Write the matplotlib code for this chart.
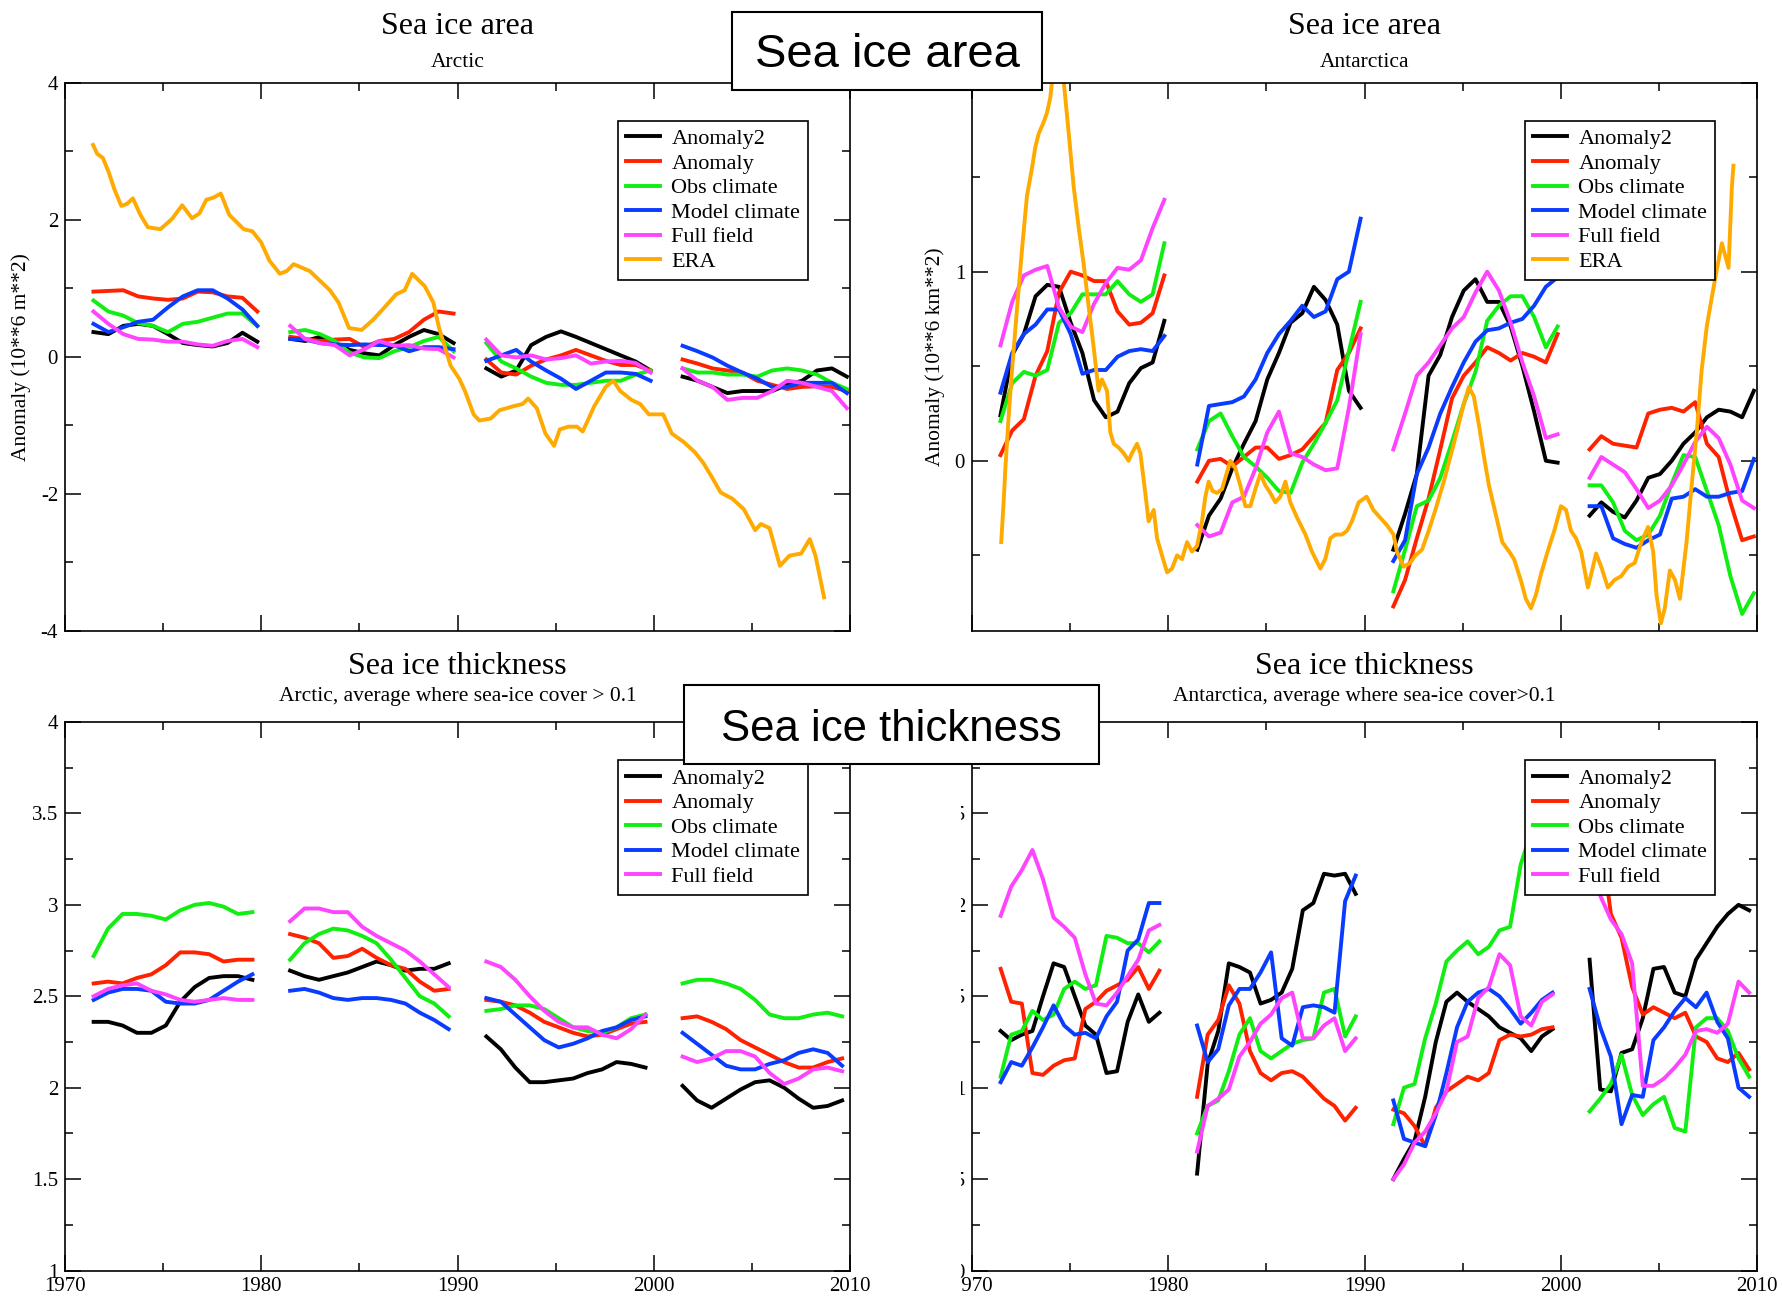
import matplotlib
matplotlib.use("Agg")
import matplotlib.pyplot as plt
import numpy as np
from matplotlib.patches import Rectangle
from matplotlib.ticker import MultipleLocator, FormatStrFormatter, FuncFormatter

# ---------------- data ----------------
series_names = ["Anomaly2", "Anomaly", "Obs climate", "Model climate", "Full field", "ERA"]
colors = ["#000000", "#ff2200", "#11ee11", "#0a3cff", "#ff44ff", "#ffaa00"]

# start / end year of each experiment segment
area_spans = [(1971.45, 1979.8), (1981.48, 1989.8), (1991.47, 1999.84), (2001.47, 2009.84)]
thick_spans = [(1971.46, 1979.55), (1981.47, 1989.55), (1991.47, 1999.58), (2001.47, 2009.6)]

# Sea ice area, Arctic (10**6 m**2 anomaly)
arc_area_anom2 = [[0.36, 0.33, 0.45, 0.48, 0.45, 0.33, 0.2, 0.17, 0.15, 0.2, 0.35, 0.22],
                  [0.26, 0.23, 0.29, 0.2, 0.1, 0.05, 0.02, 0.17, 0.29, 0.39, 0.33, 0.2],
                  [-0.17, -0.29, -0.2, 0.17, 0.29, 0.37, 0.29, 0.2, 0.11, 0.02, -0.07, -0.2],
                  [-0.29, -0.35, -0.44, -0.53, -0.5, -0.5, -0.5, -0.41, -0.35, -0.2, -0.17, -0.29]]
arc_area_anom = [[0.95, 0.96, 0.97, 0.88, 0.85, 0.83, 0.85, 0.95, 0.94, 0.88, 0.86, 0.66],
                 [0.29, 0.26, 0.23, 0.25, 0.26, 0.14, 0.23, 0.26, 0.36, 0.54, 0.66, 0.63],
                 [-0.04, -0.23, -0.26, -0.13, -0.04, 0.02, 0.1, 0.02, -0.06, -0.12, -0.12, -0.2],
                 [-0.04, -0.1, -0.17, -0.2, -0.23, -0.35, -0.41, -0.47, -0.44, -0.43, -0.44, -0.5]]
arc_area_obs = [[0.82, 0.66, 0.6, 0.49, 0.45, 0.36, 0.48, 0.51, 0.57, 0.63, 0.63, 0.45],
                [0.36, 0.39, 0.33, 0.23, 0.06, -0.01, -0.02, 0.08, 0.14, 0.23, 0.29, 0.08],
                [0.2, -0.07, -0.17, -0.29, -0.38, -0.41, -0.41, -0.38, -0.35, -0.35, -0.26, -0.2],
                [-0.17, -0.23, -0.23, -0.26, -0.26, -0.29, -0.2, -0.17, -0.2, -0.26, -0.38, -0.47]]
arc_area_model = [[0.48, 0.36, 0.43, 0.51, 0.54, 0.72, 0.88, 0.97, 0.97, 0.85, 0.69, 0.45],
                  [0.26, 0.25, 0.2, 0.18, 0.17, 0.18, 0.17, 0.17, 0.08, 0.14, 0.14, 0.11],
                  [-0.06, 0.02, 0.1, -0.07, -0.2, -0.32, -0.47, -0.35, -0.23, -0.23, -0.25, -0.35],
                  [0.16, 0.08, -0.01, -0.13, -0.23, -0.32, -0.44, -0.44, -0.38, -0.38, -0.38, -0.53]]
arc_area_full = [[0.66, 0.48, 0.33, 0.26, 0.25, 0.22, 0.22, 0.18, 0.16, 0.23, 0.26, 0.14],
                 [0.45, 0.26, 0.2, 0.17, 0.02, 0.11, 0.23, 0.16, 0.17, 0.12, 0.11, -0.01],
                 [0.25, 0.02, -0.01, 0.02, -0.04, -0.02, 0.02, -0.1, -0.07, -0.06, -0.09, -0.23],
                 [-0.17, -0.35, -0.44, -0.63, -0.6, -0.6, -0.5, -0.35, -0.38, -0.44, -0.5, -0.75]]
arc_area_era = [(1971.43, 3.09), (1971.64, 2.96), (1971.93, 2.9), (1972.23, 2.69), (1972.52, 2.44),
                (1972.87, 2.2), (1973.16, 2.23), (1973.46, 2.31), (1973.84, 2.07), (1974.22, 1.89),
                (1974.86, 1.86), (1975.45, 2.01), (1975.97, 2.21), (1976.47, 2.02), (1976.85, 2.09),
                (1977.2, 2.29), (1977.55, 2.32), (1977.94, 2.38), (1978.37, 2.07), (1979.11, 1.86),
                (1979.55, 1.83), (1979.99, 1.67), (1980.42, 1.4), (1980.95, 1.21), (1981.3, 1.25),
                (1981.65, 1.35), (1982.47, 1.25), (1983.06, 1.09), (1983.5, 0.97), (1983.94, 0.79),
                (1984.47, 0.42), (1985.11, 0.39), (1985.7, 0.54), (1986.28, 0.72), (1986.87, 0.91),
                (1987.31, 0.97), (1987.69, 1.21), (1988.33, 1.03), (1988.77, 0.79), (1989.06, 0.42),
                (1989.65, -0.13), (1990.09, -0.32), (1990.38, -0.5), (1990.82, -0.84), (1991.11, -0.93),
                (1991.7, -0.9), (1992.14, -0.78), (1992.87, -0.72), (1993.31, -0.69), (1993.6, -0.61),
                (1994.04, -0.75), (1994.48, -1.12), (1994.92, -1.3), (1995.21, -1.06), (1995.65, -1.02),
                (1996.09, -1.02), (1996.38, -1.09), (1996.97, -0.72), (1997.55, -0.44), (1997.94, -0.35),
                (1998.29, -0.5), (1998.87, -0.63), (1999.31, -0.69), (1999.75, -0.84), (2000.48, -0.84),
                (2000.92, -1.12), (2001.51, -1.24), (2002.09, -1.39), (2002.53, -1.55), (2002.97, -1.76),
                (2003.41, -1.98), (2004.0, -2.07), (2004.58, -2.22), (2005.17, -2.53), (2005.46, -2.44),
                (2005.9, -2.5), (2006.43, -3.05), (2006.92, -2.9), (2007.51, -2.87), (2007.95, -2.66),
                (2008.24, -2.9), (2008.68, -3.51)]

# Sea ice area, Antarctica (10**6 km**2 anomaly)
ant_area_anom2 = [[0.24, 0.56, 0.67, 0.87, 0.93, 0.92, 0.73, 0.57, 0.32, 0.23, 0.26, 0.41, 0.49, 0.52, 0.74],
                  [-0.47, -0.29, -0.2, -0.04, 0.09, 0.21, 0.43, 0.57, 0.73, 0.78, 0.92, 0.85, 0.72, 0.37, 0.28],
                  [-0.47, -0.28, -0.07, 0.45, 0.56, 0.76, 0.9, 0.96, 0.84, 0.84, 0.71, 0.5, 0.26, 0.0, -0.01],
                  [-0.29, -0.22, -0.27, -0.3, -0.21, -0.09, -0.07, 0.0, 0.09, 0.15, 0.23, 0.27, 0.26, 0.23, 0.37]]
ant_area_anom = [[0.03, 0.16, 0.22, 0.45, 0.58, 0.89, 1.0, 0.98, 0.95, 0.95, 0.79, 0.72, 0.73, 0.78, 0.98],
                 [-0.11, 0.0, 0.01, -0.03, 0.02, 0.07, 0.07, 0.01, 0.03, 0.06, 0.13, 0.2, 0.48, 0.57, 0.7],
                 [-0.77, -0.63, -0.41, -0.2, 0.06, 0.33, 0.45, 0.52, 0.6, 0.57, 0.53, 0.57, 0.55, 0.52, 0.67],
                 [0.06, 0.13, 0.09, 0.08, 0.07, 0.25, 0.27, 0.28, 0.26, 0.31, 0.09, 0.02, -0.22, -0.42, -0.4]]
ant_area_obs = [[0.21, 0.41, 0.47, 0.45, 0.48, 0.73, 0.78, 0.88, 0.88, 0.88, 0.95, 0.88, 0.84, 0.88, 1.15],
                [0.06, 0.21, 0.25, 0.13, 0.02, -0.03, -0.09, -0.16, -0.17, -0.01, 0.09, 0.2, 0.32, 0.58, 0.84],
                [-0.69, -0.47, -0.24, -0.21, -0.09, 0.1, 0.3, 0.47, 0.74, 0.82, 0.87, 0.87, 0.76, 0.6, 0.71],
                [-0.13, -0.13, -0.22, -0.37, -0.42, -0.39, -0.29, -0.12, 0.03, 0.02, -0.16, -0.34, -0.61, -0.81, -0.7]]
ant_area_model = [[0.36, 0.57, 0.67, 0.72, 0.8, 0.8, 0.67, 0.46, 0.48, 0.48, 0.55, 0.58, 0.59, 0.58, 0.66],
                  [-0.02, 0.29, 0.3, 0.31, 0.34, 0.43, 0.57, 0.67, 0.74, 0.82, 0.76, 0.79, 0.96, 1.0, 1.28],
                  [-0.53, -0.42, -0.07, 0.07, 0.25, 0.39, 0.52, 0.63, 0.69, 0.7, 0.73, 0.75, 0.82, 0.92, 0.97],
                  [-0.24, -0.24, -0.41, -0.44, -0.46, -0.42, -0.39, -0.2, -0.19, -0.15, -0.19, -0.19, -0.17, -0.16, 0.01]]
ant_area_full = [[0.61, 0.84, 0.98, 1.01, 1.03, 0.81, 0.71, 0.68, 0.83, 0.94, 1.02, 1.01, 1.06, 1.23, 1.38],
                 [-0.34, -0.4, -0.38, -0.22, -0.19, -0.04, 0.15, 0.26, 0.04, 0.02, -0.02, -0.05, -0.04, 0.28, 0.67],
                 [0.06, 0.25, 0.45, 0.52, 0.61, 0.7, 0.76, 0.89, 1.0, 0.9, 0.73, 0.52, 0.34, 0.12, 0.14],
                 [-0.09, 0.02, -0.02, -0.06, -0.15, -0.25, -0.21, -0.13, -0.02, 0.1, 0.18, 0.12, -0.02, -0.21, -0.25]]
ant_area_era = [(1971.49, -0.43), (1971.61, -0.22), (1971.7, -0.04), (1971.87, 0.24), (1972.04, 0.48),
                (1972.29, 0.8), (1972.55, 1.12), (1972.8, 1.4), (1973.06, 1.55), (1973.23, 1.66),
                (1973.4, 1.73), (1973.65, 1.79), (1973.82, 1.84), (1973.99, 1.92), (1974.08, 2.01),
                (1974.37, 2.3), (1974.67, 2.01), (1974.93, 1.73), (1975.18, 1.45), (1975.44, 1.23),
                (1975.69, 1.04), (1975.94, 0.82), (1976.2, 0.6), (1976.45, 0.37), (1976.62, 0.43),
                (1976.88, 0.37), (1977.05, 0.15), (1977.22, 0.09), (1977.47, 0.07), (1977.73, 0.04),
                (1977.98, 0.0), (1978.15, 0.04), (1978.41, 0.09), (1978.58, 0.04), (1978.83, -0.17),
                (1979.0, -0.32), (1979.26, -0.26), (1979.43, -0.41), (1979.68, -0.5), (1979.94, -0.59),
                (1980.19, -0.57), (1980.45, -0.5), (1980.7, -0.52), (1980.96, -0.43), (1981.21, -0.48),
                (1981.47, -0.45), (1981.72, -0.32), (1981.89, -0.19), (1982.06, -0.11), (1982.26, -0.16),
                (1982.48, -0.17), (1982.74, -0.15), (1983.16, 0.0), (1983.42, -0.04), (1983.67, -0.13),
                (1983.93, -0.24), (1984.18, -0.24), (1984.44, -0.15), (1984.69, -0.07), (1984.95, -0.13),
                (1985.2, -0.17), (1985.46, -0.22), (1985.71, -0.19), (1985.97, -0.11), (1986.22, -0.22),
                (1986.56, -0.3), (1986.99, -0.39), (1987.32, -0.48), (1987.75, -0.57), (1988.0, -0.52),
                (1988.26, -0.41), (1988.51, -0.39), (1988.85, -0.39), (1989.11, -0.37), (1989.36, -0.32),
                (1989.7, -0.22), (1990.11, -0.19), (1990.45, -0.26), (1990.79, -0.3), (1991.14, -0.34),
                (1991.48, -0.39), (1991.65, -0.48), (1991.99, -0.56), (1992.33, -0.54), (1992.59, -0.5),
                (1992.93, -0.47), (1993.27, -0.37), (1993.61, -0.26), (1994.04, -0.11), (1994.55, 0.09),
                (1995.06, 0.3), (1995.32, 0.39), (1995.57, 0.34), (1995.83, 0.19), (1996.09, 0.02),
                (1996.34, -0.13), (1996.68, -0.28), (1997.02, -0.43), (1997.37, -0.48), (1997.62, -0.52),
                (1997.96, -0.63), (1998.22, -0.73), (1998.48, -0.78), (1998.73, -0.71), (1998.99, -0.6),
                (1999.33, -0.48), (1999.67, -0.37), (2000.01, -0.24), (2000.27, -0.26), (2000.52, -0.37),
                (2000.78, -0.41), (2001.04, -0.48), (2001.38, -0.67), (2001.55, -0.6), (2001.8, -0.49),
                (2002.06, -0.56), (2002.4, -0.67), (2002.74, -0.63), (2003.08, -0.61), (2003.43, -0.56),
                (2003.77, -0.54), (2004.11, -0.43), (2004.45, -0.35), (2004.71, -0.48), (2004.88, -0.71),
                (2005.1, -0.86), (2005.3, -0.78), (2005.56, -0.58), (2005.82, -0.63), (2006.07, -0.73),
                (2006.41, -0.43), (2006.67, -0.13), (2006.93, 0.15), (2007.18, 0.48), (2007.44, 0.71),
                (2007.69, 0.86), (2007.95, 1.01), (2008.21, 1.15), (2008.55, 1.02), (2008.72, 1.45),
                (2008.8, 1.56)]

# Sea ice thickness, Arctic
arc_thick_anom2 = [[2.36, 2.36, 2.34, 2.3, 2.3, 2.34, 2.47, 2.55, 2.6, 2.61, 2.61, 2.59],
                   [2.64, 2.61, 2.59, 2.61, 2.63, 2.66, 2.69, 2.67, 2.64, 2.65, 2.65, 2.68],
                   [2.28, 2.21, 2.11, 2.03, 2.03, 2.04, 2.05, 2.08, 2.1, 2.14, 2.13, 2.11],
                   [2.01, 1.93, 1.89, 1.94, 1.99, 2.03, 2.04, 2.0, 1.94, 1.89, 1.9, 1.93]]
arc_thick_anom = [[2.57, 2.58, 2.57, 2.6, 2.62, 2.67, 2.74, 2.74, 2.73, 2.69, 2.7, 2.7],
                  [2.84, 2.82, 2.79, 2.71, 2.72, 2.76, 2.71, 2.67, 2.65, 2.58, 2.53, 2.54],
                  [2.48, 2.47, 2.45, 2.41, 2.36, 2.33, 2.3, 2.28, 2.29, 2.32, 2.35, 2.36],
                  [2.38, 2.39, 2.36, 2.32, 2.26, 2.22, 2.18, 2.14, 2.11, 2.11, 2.14, 2.16]]
arc_thick_obs = [[2.72, 2.87, 2.95, 2.95, 2.94, 2.92, 2.97, 3.0, 3.01, 2.99, 2.95, 2.96],
                 [2.7, 2.79, 2.84, 2.87, 2.86, 2.83, 2.79, 2.7, 2.6, 2.5, 2.46, 2.39],
                 [2.42, 2.43, 2.45, 2.45, 2.43, 2.38, 2.33, 2.31, 2.3, 2.33, 2.38, 2.4],
                 [2.57, 2.59, 2.59, 2.57, 2.54, 2.48, 2.4, 2.38, 2.38, 2.4, 2.41, 2.39]]
arc_thick_model = [[2.48, 2.52, 2.54, 2.54, 2.53, 2.47, 2.46, 2.46, 2.48, 2.53, 2.58, 2.62],
                   [2.53, 2.54, 2.52, 2.49, 2.48, 2.49, 2.49, 2.48, 2.46, 2.41, 2.37, 2.32],
                   [2.49, 2.47, 2.4, 2.33, 2.26, 2.22, 2.24, 2.27, 2.31, 2.33, 2.37, 2.39],
                   [2.3, 2.24, 2.18, 2.12, 2.1, 2.1, 2.13, 2.15, 2.19, 2.21, 2.19, 2.12]]
arc_thick_full = [[2.5, 2.54, 2.56, 2.57, 2.53, 2.51, 2.48, 2.47, 2.48, 2.49, 2.48, 2.48],
                  [2.91, 2.98, 2.98, 2.96, 2.96, 2.88, 2.83, 2.79, 2.75, 2.69, 2.62, 2.55],
                  [2.69, 2.66, 2.59, 2.5, 2.42, 2.36, 2.33, 2.33, 2.29, 2.27, 2.32, 2.4],
                  [2.17, 2.14, 2.16, 2.2, 2.2, 2.17, 2.08, 2.02, 2.05, 2.1, 2.11, 2.09]]

# Sea ice thickness, Antarctica
ant_thick_anom2 = [[1.31, 1.26, 1.29, 1.31, 1.5, 1.68, 1.66, 1.5, 1.34, 1.29, 1.08, 1.09, 1.36, 1.51, 1.36, 1.41],
                   [0.53, 1.13, 1.31, 1.68, 1.66, 1.63, 1.46, 1.48, 1.52, 1.65, 1.97, 2.01, 2.17, 2.16, 2.17, 2.06],
                   [0.5, 0.61, 0.71, 0.95, 1.25, 1.47, 1.52, 1.47, 1.43, 1.39, 1.33, 1.3, 1.27, 1.2, 1.28, 1.32],
                   [1.7, 0.99, 0.98, 1.19, 1.21, 1.38, 1.65, 1.66, 1.52, 1.5, 1.7, 1.79, 1.88, 1.95, 2.0, 1.97]]
ant_thick_anom = [[1.65, 1.47, 1.46, 1.08, 1.07, 1.12, 1.15, 1.16, 1.43, 1.47, 1.53, 1.56, 1.59, 1.66, 1.54, 1.64],
                  [0.95, 1.29, 1.37, 1.56, 1.46, 1.2, 1.08, 1.04, 1.08, 1.09, 1.06, 1.0, 0.94, 0.9, 0.82, 0.89],
                  [0.88, 0.86, 0.79, 0.68, 0.89, 0.98, 1.02, 1.06, 1.04, 1.08, 1.26, 1.29, 1.28, 1.29, 1.32, 1.33],
                  [2.6, 2.4, 1.95, 1.82, 1.55, 1.4, 1.44, 1.41, 1.38, 1.41, 1.28, 1.25, 1.16, 1.14, 1.19, 1.1]]
ant_thick_obs = [[1.06, 1.29, 1.31, 1.42, 1.37, 1.4, 1.54, 1.58, 1.54, 1.56, 1.83, 1.82, 1.79, 1.79, 1.74, 1.8],
                 [0.75, 0.9, 0.93, 1.09, 1.29, 1.38, 1.2, 1.16, 1.2, 1.24, 1.26, 1.27, 1.52, 1.54, 1.28, 1.39],
                 [0.8, 1.0, 1.02, 1.27, 1.46, 1.69, 1.75, 1.8, 1.73, 1.77, 1.86, 1.88, 2.22, 2.4, 2.5, 2.55],
                 [0.87, 0.94, 1.02, 1.18, 0.96, 0.85, 0.91, 0.95, 0.78, 0.76, 1.33, 1.38, 1.38, 1.31, 1.16, 1.06]]
ant_thick_model = [[1.03, 1.14, 1.12, 1.22, 1.33, 1.45, 1.34, 1.29, 1.3, 1.27, 1.39, 1.47, 1.75, 1.81, 2.01, 2.01],
                   [1.34, 1.14, 1.21, 1.45, 1.54, 1.54, 1.63, 1.74, 1.27, 1.23, 1.44, 1.45, 1.44, 1.41, 2.02, 2.16],
                   [0.93, 0.72, 0.7, 0.68, 0.85, 1.08, 1.33, 1.47, 1.52, 1.54, 1.5, 1.43, 1.35, 1.41, 1.48, 1.52],
                   [1.54, 1.33, 1.17, 0.8, 0.96, 0.95, 1.26, 1.33, 1.42, 1.49, 1.44, 1.52, 1.36, 1.27, 1.0, 0.95]]
ant_thick_full = [[1.94, 2.1, 2.19, 2.3, 2.14, 1.93, 1.88, 1.82, 1.62, 1.46, 1.45, 1.52, 1.61, 1.7, 1.86, 1.89],
                  [0.65, 0.9, 0.94, 0.99, 1.17, 1.25, 1.35, 1.4, 1.49, 1.52, 1.27, 1.27, 1.34, 1.38, 1.2, 1.27],
                  [0.5, 0.58, 0.7, 0.76, 0.86, 0.98, 1.25, 1.28, 1.49, 1.55, 1.73, 1.67, 1.39, 1.34, 1.47, 1.51],
                  [2.5, 2.05, 1.92, 1.84, 1.68, 1.01, 1.01, 1.05, 1.11, 1.18, 1.31, 1.32, 1.3, 1.35, 1.58, 1.52]]

# ---------------- style ----------------
plt.rcParams["font.family"] = ["Liberation Serif", "DejaVu Serif"]
plt.rcParams["axes.unicode_minus"] = False

W, H = 1782, 1300
fig = plt.figure(figsize=(W / 100, H / 100), dpi=100)


def seg_xy(segs, spans):
    xs, ys = [], []
    for vals, (a, b) in zip(segs, spans):
        xs.extend(np.linspace(a, b, len(vals)))
        ys.extend(vals)
        xs.append(np.nan)
        ys.append(np.nan)
    return xs, ys


def make_axes(left_px, top_px, ylim, major, minor, xlabels, hide_top=False):
    ax = fig.add_axes([left_px / W, (H - top_px - 548.5) / H, 785 / W, 548.5 / H])
    ax.set_xlim(1970, 2010)
    ax.set_ylim(*ylim)
    ax.xaxis.set_major_locator(MultipleLocator(10))
    ax.xaxis.set_minor_locator(MultipleLocator(5))
    ax.yaxis.set_major_locator(MultipleLocator(major))
    ax.yaxis.set_minor_locator(MultipleLocator(minor))
    top = ylim[1]
    # the top label of the right-hand panels sits under a caption box
    ax.yaxis.set_major_formatter(FuncFormatter(
        lambda v, p: "" if (hide_top and abs(v - top) < 1e-9) else "%g" % v))
    ax.xaxis.set_major_formatter(FormatStrFormatter("%d"))
    ax.tick_params(which="both", direction="in", top=True, right=True, width=1.1,
                   labelsize=15, pad=5, labelbottom=xlabels)
    ax.tick_params(which="major", length=11.5)
    ax.tick_params(which="minor", length=5.8)
    for s in ax.spines.values():
        s.set_linewidth(1.2)
    return ax


def draw_panel(ax, series):
    for name, col, xy in zip(series_names, colors, series):
        ax.plot(xy[0], xy[1], color=col, lw=2.8, label=name, solid_joinstyle="round")
    leg = ax.legend(loc="upper right", bbox_to_anchor=(0.9465, 0.93), borderaxespad=0,
                    fancybox=False, framealpha=1, edgecolor="black", fontsize=16,
                    handlelength=1.55, handletextpad=0.5, labelspacing=0.18, borderpad=0.35)
    leg.get_frame().set_linewidth(1.2)


# top-left: Arctic area
ax1 = make_axes(65, 82.5, (-4, 4), 2, 1, False)
era_x, era_y = zip(*arc_area_era)
draw_panel(ax1, [seg_xy(arc_area_anom2, area_spans), seg_xy(arc_area_anom, area_spans),
                 seg_xy(arc_area_obs, area_spans), seg_xy(arc_area_model, area_spans),
                 seg_xy(arc_area_full, area_spans), (era_x, era_y)])

# top-right: Antarctic area
ax2 = make_axes(972, 82.5, (-0.9, 2.0), 1, 0.5, False, hide_top=True)
era_x, era_y = zip(*ant_area_era)
draw_panel(ax2, [seg_xy(ant_area_anom2, area_spans), seg_xy(ant_area_anom, area_spans),
                 seg_xy(ant_area_obs, area_spans), seg_xy(ant_area_model, area_spans),
                 seg_xy(ant_area_full, area_spans), (era_x, era_y)])

# bottom-left: Arctic thickness
ax3 = make_axes(65, 722, (1, 4), 0.5, 0.25, True)
draw_panel(ax3, [seg_xy(arc_thick_anom2, thick_spans), seg_xy(arc_thick_anom, thick_spans),
                 seg_xy(arc_thick_obs, thick_spans), seg_xy(arc_thick_model, thick_spans),
                 seg_xy(arc_thick_full, thick_spans)])

# bottom-right: Antarctic thickness
ax4 = make_axes(972, 722, (0, 3), 0.5, 0.25, True, hide_top=True)
draw_panel(ax4, [seg_xy(ant_thick_anom2, thick_spans), seg_xy(ant_thick_anom, thick_spans),
                 seg_xy(ant_thick_obs, thick_spans), seg_xy(ant_thick_model, thick_spans),
                 seg_xy(ant_thick_full, thick_spans)])


# titles
def title(xc, y_top, text, size):
    fig.text(xc / W, 1 - y_top / H, text, ha="center", va="baseline", fontsize=size)


title(457.5, 34.5, "Sea ice area", 23)
title(457.5, 67.3, "Arctic", 15.5)
title(1364.5, 34.5, "Sea ice area", 23)
title(1364.5, 67.3, "Antarctica", 15.5)
title(457.5, 674.5, "Sea ice thickness", 23)
title(457.5, 701, "Arctic, average where sea-ice cover > 0.1", 15.5)
title(1364.5, 674.5, "Sea ice thickness", 23)
title(1364.5, 701, "Antarctica, average where sea-ice cover>0.1", 15.5)

fig.text(21 / W, 1 - 357 / H, "Anomaly (10**6 m**2)", rotation=90, ha="center", va="center", fontsize=15.5)
fig.text(935 / W, 1 - 357 / H, "Anomaly (10**6 km**2)", rotation=90, ha="center", va="center", fontsize=15.5)

# the left thickness panel hides the tick labels of the right one
fig.add_artist(Rectangle((876 / W, 0), (961 - 876) / W, 640 / H, transform=fig.transFigure,
                         facecolor="white", edgecolor="none", zorder=5))

# overlay caption boxes
for (x0, y0, x1, y1, txt, size, base) in [(732, 12, 1042, 90, "Sea ice area", 34, 67.3),
                                          (684, 685, 1099, 764, "Sea ice thickness", 31.5, 741)]:
    fig.add_artist(Rectangle((x0 / W, 1 - y1 / H), (x1 - x0) / W, (y1 - y0) / H,
                             transform=fig.transFigure, facecolor="white", edgecolor="black",
                             linewidth=1.5, zorder=10))
    fig.text((x0 + x1) / 2 / W, 1 - base / H, txt, ha="center", va="baseline",
             fontsize=size, family="Liberation Sans", zorder=11)

fig.savefig("out.png", dpi=100)
